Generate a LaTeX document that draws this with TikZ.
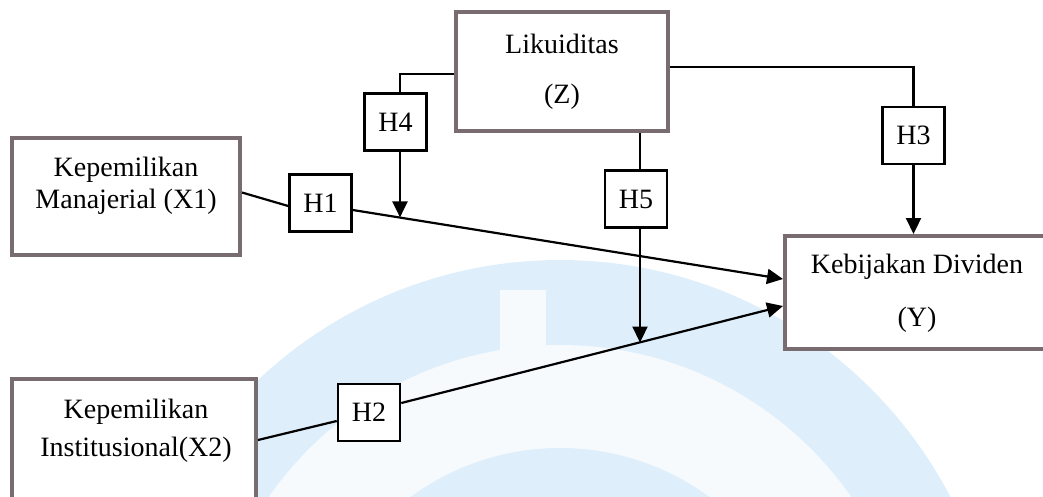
\documentclass[tikz,border=0pt]{standalone}
\usepackage{fontspec}
\setmainfont{Liberation Serif}
\usetikzlibrary{arrows.meta,calc}
\definecolor{boxgray}{RGB}{120,108,112}
\definecolor{wmblue}{RGB}{222,239,251}
\definecolor{wmring}{RGB}{247,250,253}
\tikzset{
  varbox/.style={draw=boxgray,line width=4pt,fill=white,rectangle,inner sep=0pt},
  hbox/.style={draw=black,line width=2.6pt,fill=white,rectangle,inner sep=0pt,
    minimum width=62pt,minimum height=57pt,font=\fontsize{28}{33}\selectfont},
  lbl/.style={inner sep=0pt,font=\fontsize{28}{33}\selectfont},
  conn/.style={draw=black,line width=2.2pt},
  arr/.style={conn,-{Triangle[length=16pt,width=15pt]}}
}
\begin{document}
\begin{tikzpicture}[x=1pt,y=-1pt]
\useasboundingbox (0,0) rectangle (1043,496);
\clip (0,0) rectangle (1043,496);
% faint watermark
\fill[wmblue] (560,700) circle[radius=440pt];
\fill[wmring] (560,700) circle[radius=355pt];
\fill[wmring] (500,290) rectangle (546,350);
\fill[wmblue] (560,700) circle[radius=252pt];

% variable boxes
\node[varbox,minimum width=228pt,minimum height=117pt] (X1) at (126,196.5) {};
\node[varbox,minimum width=212pt,minimum height=119pt] (Z) at (562,71.5) {};
\node[varbox,minimum width=275pt,minimum height=113pt] (Y) at (922.5,292.5) {};
\node[varbox,minimum width=244pt,minimum height=141pt] (X2) at (134,449.5) {};

\node[lbl] (x1a) at (126,170) {Kepemilikan};
\node[lbl] (x1b) at (126,202) {Manajerial (X1)};
\node[lbl] (za) at (562,44) {Likuiditas};
\node[lbl] (zb) at (562,97) {(Z)};
\node[lbl] (ya) at (917,267) {Kebijakan Dividen};
\node[lbl] (yb) at (917,320) {(Y)};
\node[lbl] (x2a) at (136,412) {Kepemilikan};
\node[lbl] (x2b) at (136,450) {Institusional(X2)};

% hypothesis boxes
\node[hbox] (H1) at (320.5,203) {H1};
\node[hbox] (H2) at (369,412.5) {H2};
\node[hbox] (H3) at (913.5,135.5) {H3};
\node[hbox] (H4) at (395.5,122) {H4};
\node[hbox] (H5) at (636,199) {H5};

\coordinate (m4) at (400,217.4);
\coordinate (m5) at (640,342.5);

% direct paths
\draw[conn] ([yshift=4pt]X1.east) -- ([yshift=-3pt]H1.west);
\draw[arr] ([yshift=-7pt]H1.east) -- ([yshift=13.5pt]Y.west);
\draw[conn] ([yshift=9.5pt]X2.east) -- ([yshift=-8.5pt]H2.west);
\draw[arr] ([yshift=9.5pt]H2.east) -- ([yshift=-13.5pt]Y.west);

% moderation paths
\draw[conn] ([yshift=-2.5pt]Z.west) -| ([xshift=4.5pt]H4.north);
\draw[arr] ([xshift=4.5pt]H4.south) -- (m4);
\draw[conn] ([yshift=4.5pt]Z.east) -| (H3.north);
\draw[arr] (H3.south) -- (H3.south |- Y.north);
\draw[conn] ([xshift=4pt]H5.north |- Z.south) -- ([xshift=4pt]H5.north);
\draw[arr] ([xshift=4pt]H5.south) -- (m5);
\end{tikzpicture}
\end{document}
